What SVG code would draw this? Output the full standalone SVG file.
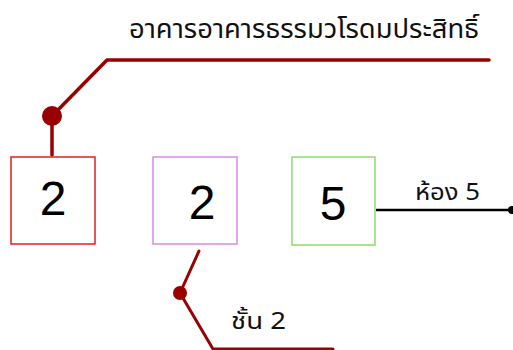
<svg xmlns="http://www.w3.org/2000/svg" width="513" height="350" viewBox="0 0 513 350">
<style>
.box{fill:#fff;stroke-width:1.5}
.num{font-family:"Liberation Sans",Arial,sans-serif;font-size:48px;fill:#000;text-anchor:middle}
.lbl{font-family:"Noto Sans","Noto Sans Thai",sans-serif;fill:#111}
.red{stroke:#990000;fill:none;stroke-linecap:round;stroke-linejoin:round}
</style>
<rect width="513" height="350" fill="#fff"/>
<g id="connectors">
  <path class="red" d="M52,155 L52,116 L107,60 L489,60" stroke-width="3.5"/>
  <circle cx="52" cy="116" r="10" fill="#990000"/>
  <path class="red" d="M199,251 L180,293 L213,349 L333,349" stroke-width="3"/>
  <circle cx="180" cy="293" r="7" fill="#990000"/>
  <path d="M376,210 L512,210" stroke="#000" stroke-width="2.5" fill="none"/>
  <circle cx="512" cy="210" r="4" fill="#000"/>
</g>
<g id="title"><text class="lbl" x="129" y="38" font-size="27" textLength="350" lengthAdjust="spacingAndGlyphs">อาคารอาคารธรรมวโรดมประสิทธิ์</text></g>
<g id="node1"><rect class="box" x="11" y="157" width="84" height="87" stroke="#e02020"/><text class="num" x="53" y="215">2</text></g>
<g id="node2"><rect class="box" x="153" y="157" width="84" height="87" stroke="#d88be8"/><text class="num" x="202" y="219">2</text></g>
<g id="node3"><rect class="box" x="292" y="157" width="83" height="88" stroke="#8ddd6a"/><text class="num" x="333" y="220">5</text></g>
<g id="label5"><text class="lbl" x="415" y="200" font-size="23" textLength="65" lengthAdjust="spacingAndGlyphs">ห้อง 5</text></g>
<g id="label2"><text class="lbl" x="231" y="329" font-size="23" textLength="55" lengthAdjust="spacingAndGlyphs">ชั้น 2</text></g>
</svg>
